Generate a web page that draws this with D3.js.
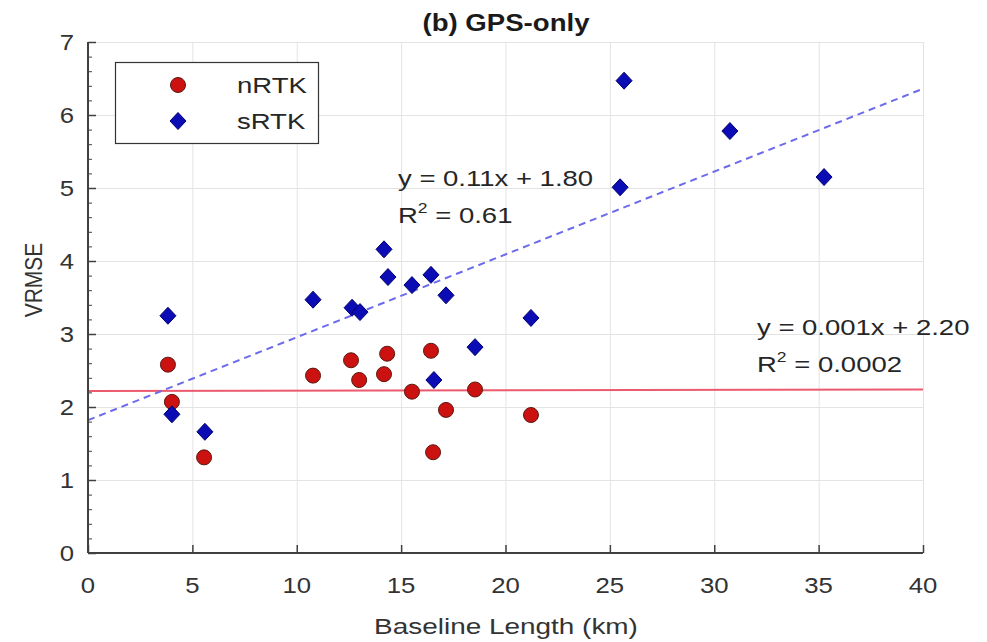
<!DOCTYPE html>
<html><head><meta charset="utf-8">
<script src="https://cdn.jsdelivr.net/npm/d3@7"></script>
<style>
html,body{margin:0;padding:0;background:#fff;}
svg{display:block;font-family:"Liberation Sans",Arial,sans-serif;}
</style></head>
<body><svg id="c" width="987" height="642"></svg>
<script>
// ---- data ----
const nRTK_x = [3.83, 4.02, 5.56, 10.78, 12.60, 12.99, 14.18, 14.33, 15.52, 16.43, 16.53, 17.15, 18.54, 21.22];
const nRTK_y = [2.58, 2.07, 1.31, 2.43, 2.64, 2.37, 2.45, 2.73, 2.21, 2.77, 1.38, 1.96, 2.24, 1.89];
const sRTK_x = [3.83, 4.02, 5.60, 10.78, 12.65, 13.03, 14.18, 14.37, 15.52, 16.43, 17.15, 16.57, 18.54, 21.22, 25.68, 25.49, 30.75, 35.26];
const sRTK_y = [3.25, 1.90, 1.66, 3.47, 3.36, 3.30, 4.16, 3.78, 3.67, 3.81, 3.53, 2.37, 2.82, 3.22, 6.47, 5.01, 5.78, 5.15];
const trendX = [0, 40];
const sFit = [0.1135, 1.82];   // slope, intercept as drawn
const nFit = [0.0005, 2.22];
const xTicks = [0, 5, 10, 15, 20, 25, 30, 35, 40];
const yTicks = [0, 1, 2, 3, 4, 5, 6, 7];
const seriesNames = ["nRTK", "sRTK"];
const title = "(b) GPS-only";
const xLabel = "Baseline Length (km)";
const yLabel = "VRMSE";
const sEq = ["y = 0.11x + 1.80", "0.61"];
const nEq = ["y = 0.001x + 2.20", "0.0002"];

// ---- layout ----
const svg = d3.select("#c");
const L = 88, R = 923, T = 42, B = 553;
const x = d3.scaleLinear().domain([0, 40]).range([L, R]);
const y = d3.scaleLinear().domain([0, 7]).range([B, T]);
const SX = 1.25, FS = 22;
const axisCol = "#404040", textCol = "#262626";

function txt(px, py, str, o = {}) {
  const t = svg.append("text")
    .attr("transform", `translate(${px},${py}) scale(${o.sx || SX},1)`)
    .attr("font-size", o.fs || FS)
    .attr("fill", o.fill || textCol)
    .attr("text-anchor", o.anchor || "start")
    .attr("font-weight", o.bold ? "bold" : "normal");
  if (str !== null) t.text(str);
  return t;
}

// grid
const grid = svg.append("g").attr("stroke", "#e3e3e3").attr("stroke-width", 1);
grid.selectAll(".gx").data(xTicks.slice(1)).join("line")
  .attr("x1", d => x(d) + 0.5).attr("x2", d => x(d) + 0.5).attr("y1", T).attr("y2", B);
grid.selectAll(".gy").data(yTicks.slice(1)).join("line")
  .attr("x1", L).attr("x2", R).attr("y1", d => y(d) + 0.5).attr("y2", d => y(d) + 0.5);

// trend lines
const line = d3.line().x(d => x(d[0])).y(d => y(d[1]));
svg.append("path").datum(trendX.map(v => [v, nFit[0] * v + nFit[1]]))
  .attr("d", line).attr("fill", "none").attr("stroke", "#ec5a6e").attr("stroke-width", 2);
svg.append("path").datum(trendX.map(v => [v, sFit[0] * v + sFit[1]]))
  .attr("d", line).attr("fill", "none").attr("stroke", "#6b6bec").attr("stroke-width", 2)
  .attr("stroke-dasharray", "7,5");

// axes
const ax = svg.append("g").attr("transform", `translate(0,${B})`)
  .call(d3.axisBottom(x).tickValues(xTicks).tickSize(-8).tickFormat(""));
ax.select(".domain").attr("stroke", axisCol).attr("stroke-width", 2).attr("d", `M${L},0H${R}`);
ax.selectAll(".tick line").attr("stroke", axisCol).attr("stroke-width", 1.5);
const ayMinor = svg.append("g").attr("transform", `translate(${L},0)`)
  .call(d3.axisLeft(y).tickValues(d3.range(0, 7.01, 0.2)).tickSize(-4).tickFormat(""));
ayMinor.select(".domain").remove();
ayMinor.selectAll(".tick line").attr("stroke", axisCol);
const ay = svg.append("g").attr("transform", `translate(${L},0)`)
  .call(d3.axisLeft(y).tickValues(yTicks).tickSize(-8).tickFormat(""));
ay.select(".domain").attr("stroke", axisCol).attr("stroke-width", 2).attr("d", `M0,${T}V${B}`);
ay.selectAll(".tick line").attr("stroke", axisCol).attr("stroke-width", 1.5);

// tick labels
xTicks.forEach(v => txt(x(v), 593, String(v), { anchor: "middle", sx: 1.12, fs: 23, fill: "#333" }));
yTicks.forEach(v => txt(74, y(v) + 8, String(v), { anchor: "end", sx: 1.12, fs: 23, fill: "#333" }));

// markers
const circ = svg.append("g");
circ.selectAll("circle").data(nRTK_x.map((v, i) => [v, nRTK_y[i]])).join("circle")
  .attr("cx", d => x(d[0])).attr("cy", d => y(d[1])).attr("r", 7.5)
  .attr("fill", "#cc1111").attr("stroke", "#5a1a10").attr("stroke-width", 1);
const dia = "M0,-8.5L8,0L0,8.5L-8,0Z";
svg.append("g").selectAll("path").data(sRTK_x.map((v, i) => [v, sRTK_y[i]])).join("path")
  .attr("d", dia).attr("transform", d => `translate(${x(d[0])},${y(d[1])})`)
  .attr("fill", "#0c0cb4").attr("stroke", "#000070").attr("stroke-width", 1);

// annotations
function eq(px, py, lines) {
  txt(px, py, lines[0], { fill: "#262626" });
  const t = txt(px, py + 37, null, { fill: "#262626" });
  t.append("tspan").text("R");
  t.append("tspan").attr("font-size", 14).attr("dy", -10).text("2");
  t.append("tspan").attr("dy", 10).text(" = " + lines[1]);
}
eq(398, 186, sEq);
eq(757, 335, nEq);

// legend
const lg = svg.append("g");
lg.append("rect").attr("x", 115.5).attr("y", 62.5).attr("width", 203).attr("height", 81)
  .attr("fill", "#fff").attr("stroke", "#333").attr("stroke-width", 1.2);
lg.append("circle").attr("cx", 178).attr("cy", 85).attr("r", 7.5)
  .attr("fill", "#cc1111").attr("stroke", "#5a1a10");
lg.append("path").attr("d", dia).attr("transform", "translate(178,121)")
  .attr("fill", "#0c0cb4").attr("stroke", "#000070");
txt(237, 93, seriesNames[0]);
txt(237, 129, seriesNames[1]);

// titles
txt(506, 31, title, { anchor: "middle", bold: true, fs: 23, sx: 1.2, fill: "#1a1a1a" });
txt(506, 634, xLabel, { anchor: "middle", fs: 22, sx: 1.27, fill: "#333" });
svg.append("text").attr("transform", "translate(42,280) rotate(-90) scale(1,1.15)")
  .attr("text-anchor", "middle").attr("font-size", 21).attr("fill", "#333").text(yLabel);
</script></body></html>
